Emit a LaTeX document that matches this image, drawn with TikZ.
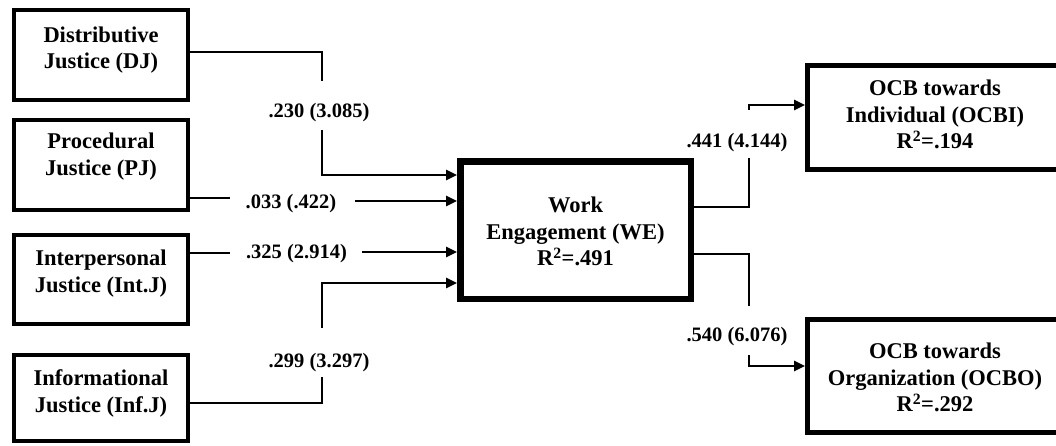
\documentclass[tikz,border=0pt]{standalone}
\usepackage{fontspec}
\setmainfont{Liberation Serif}
\usetikzlibrary{arrows.meta}
\begin{document}
\begin{tikzpicture}[x=1pt,y=-1pt,
  lbox/.style={draw=black, line width=4pt, inner sep=0pt, minimum width=174pt, rectangle},
  webox/.style={draw=black, line width=6.5pt, inner sep=0pt, rectangle},
  rbox/.style={draw=black, line width=5pt, inner sep=0pt, rectangle},
  btext/.style={font=\fontsize{22.5}{26.5}\selectfont\bfseries, align=center, inner sep=0pt},
  lab/.style={font=\fontsize{20.5}{24}\selectfont\bfseries, inner sep=0pt, anchor=base},
  conn/.style={line width=2.2pt},
  arr/.style={line width=2.5pt, -{Triangle[length=11pt,width=10pt]}}
]
\useasboundingbox (0,0) rectangle (1056,445);
\clip (0,0) rectangle (1056,445);
\fill[white] (0,0) rectangle (1056,445);

% boxes
\node[lbox, minimum height=90pt] (DJ) at (101,55) {};
\node[lbox, minimum height=90pt] (PJ) at (101,165) {};
\node[lbox, minimum height=89pt] (IntJ) at (101,279.5) {};
\node[lbox, minimum height=86pt] (InfJ) at (101,398) {};
\node[webox, minimum width=230.5pt, minimum height=137.5pt] (WE) at (575.5,230) {};
\node[rbox, minimum width=272.5pt, minimum height=104pt] (OCBI) at (943.75,117.5) {};
\node[rbox, minimum width=272.5pt, minimum height=113pt] (OCBO) at (943.75,376) {};

% box texts
\node[btext] (DJt) at (101,50) {Distributive\\Justice (DJ)};
\node[btext] (PJt) at (101,156.5) {Procedural\\Justice (PJ)};
\node[btext] (IntJt) at (101,273.5) {Interpersonal\\Justice (Int.J)};
\node[btext] (InfJt) at (101,393.5) {Informational\\Justice (Inf.J)};
\node[btext] (WEt) at (575.5,231.7) {Work\\Engagement (WE)\\R\textsuperscript{2}=.491};
\node[btext] (OCBIt) at (935,114.7) {OCB towards\\Individual (OCBI)\\R\textsuperscript{2}=.194};
\node[btext] (OCBOt) at (935,377.5) {OCB towards\\Organization (OCBO)\\R\textsuperscript{2}=.292};

% path labels
\node[lab] (L1) at (319,117) {.230 (3.085)};
\node[lab] (L2) at (291,208) {.033 (.422)};
\node[lab] (L3) at (296.5,258) {.325 (2.914)};
\node[lab] (L4) at (319,367) {.299 (3.297)};
\node[lab] (L5) at (737,147) {.441 (4.144)};
\node[lab] (L6) at (737,341) {.540 (6.076)};

% helper coordinates
\coordinate (a1) at (322,52);
\coordinate (a2) at (322,81);
\coordinate (a3) at (322,130);
\coordinate (a4) at (322,175);
\coordinate (b1) at (230,198);
\coordinate (b2) at (355,201);
\coordinate (c1) at (230,253);
\coordinate (c2) at (362,252);
\coordinate (d1) at (322,403);
\coordinate (d2) at (322,377);
\coordinate (d3) at (322,328);
\coordinate (d4) at (322,283);
\coordinate (e1) at (749,207);
\coordinate (e2) at (749,158);
\coordinate (e3) at (749,110);
\coordinate (e4) at (749,105);
\coordinate (f1) at (749,254);
\coordinate (f2) at (749,306);
\coordinate (f3) at (749,355);
\coordinate (f4) at (749,366);

% connectors: left
\draw[conn] (DJ.east |- a1) -- (a1) -- (a2);
\draw[arr] (a3) -- (a4) -- (WE.west |- a4);
\draw[conn] (PJ.east |- b1) -- (b1);
\draw[arr] (b2) -- (WE.west |- b2);
\draw[conn] (IntJ.east |- c1) -- (c1);
\draw[arr] (c2) -- (WE.west |- c2);
\draw[conn] (InfJ.east |- d1) -- (d1) -- (d2);
\draw[arr] (d3) -- (d4) -- (WE.west |- d4);

% connectors: right
\draw[conn] (WE.east |- e1) -- (e1) -- (e2);
\draw[arr] (e3) -- (e4) -- (OCBI.west |- e4);
\draw[conn] (WE.east |- f1) -- (f1) -- (f2);
\draw[arr] (f3) -- (f4) -- (OCBO.west |- f4);
\end{tikzpicture}
\end{document}
